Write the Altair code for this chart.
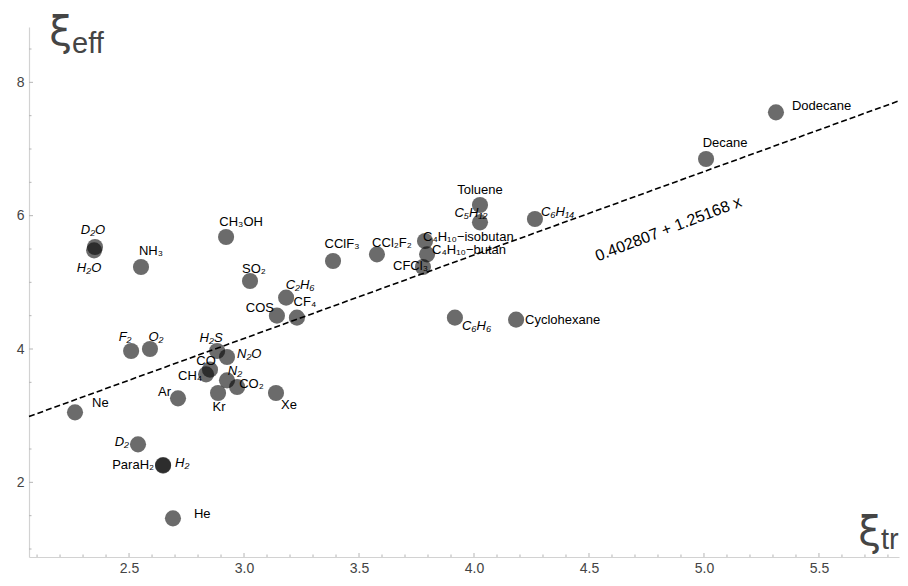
import altair as alt
import pandas as pd

# ---------------- data ----------------
names = ["Dodecane", "Decane", "Toluene", "C₅H₁₂", "C₆H₁₄", "C₄H₁₀−isobutan",
         "C₄H₁₀−butan", "CFCl₃", "CCl₂F₂", "CClF₃", "CH₃OH", "SO₂", "C₂H₆",
         "COS", "CF₄", "NH₃", "D₂O", "H₂O", "F₂", "O₂", "H₂S", "N₂O", "CO",
         "CH₄", "N₂", "CO₂", "Kr", "Xe", "Ar", "Ne", "D₂", "ParaH₂", "H₂",
         "He", "C₆H₆", "Cyclohexane"]
xi_tr = [5.313, 5.009, 4.026, 4.026, 4.265, 3.787, 3.796, 3.778, 3.578, 3.387,
         2.922, 3.026, 3.183, 3.143, 3.230, 2.552, 2.352, 2.348, 2.509, 2.591,
         2.883, 2.926, 2.852, 2.835, 2.926, 2.970, 2.887, 3.139, 2.713, 2.265,
         2.539, 2.648, 2.648, 2.691, 3.917, 4.183]
xi_eff = [7.55, 6.85, 6.16, 5.90, 5.95, 5.62, 5.42, 5.23, 5.42, 5.32,
          5.68, 5.02, 4.77, 4.50, 4.47, 5.23, 5.53, 5.48, 3.97, 4.00,
          3.97, 3.88, 3.69, 3.62, 3.53, 3.43, 3.34, 3.34, 3.26, 3.05,
          2.57, 2.26, 2.25, 1.46, 4.47, 4.44]

fit_intercept = 0.402807
fit_slope = 1.25168
fit_label = "0.402807 + 1.25168 x"

x_major = [2.5, 3.0, 3.5, 4.0, 4.5, 5.0, 5.5]
x_minor = [2.1, 2.2, 2.3, 2.4, 2.6, 2.7, 2.8, 2.9, 3.1, 3.2, 3.3, 3.4, 3.6, 3.7,
           3.8, 3.9, 4.1, 4.2, 4.3, 4.4, 4.6, 4.7, 4.8, 4.9, 5.1, 5.2, 5.3, 5.4,
           5.6, 5.7, 5.8]
y_major = [2, 4, 6, 8]
y_minor = [1.0, 1.5, 2.5, 3.0, 3.5, 4.5, 5.0, 5.5, 6.5, 7.0, 7.5, 8.5]

# ---------------- styling ----------------
X_DOMAIN = [2.065, 5.848]
Y_DOMAIN = [0.88, 8.83]
W, H = 870, 530
PX_X = W / (X_DOMAIN[1] - X_DOMAIN[0])
PX_Y = H / (Y_DOMAIN[1] - Y_DOMAIN[0])
FONT = "Liberation Sans"
AXIS_GRAY = "#d2d2d2"
TICK_GRAY = "#b5b5b5"
LABEL_GRAY = "#444444"

# label placement in pixels relative to the point: (dx, dy, align, italic)
place = {
    "Dodecane": (16, -6, "left", False),
    "Decane": (19, -16, "center", False),
    "Toluene": (0, -15, "center", False),
    "C₅H₁₂": (-9, -9, "center", True),
    "C₆H₁₄": (6, -7, "left", True),
    "C₄H₁₀−isobutan": (-2, -4, "left", False),
    "C₄H₁₀−butan": (5, -4, "left", False),
    "CFCl₃": (5, -1, "right", False),
    "CCl₂F₂": (15, -11, "center", False),
    "CClF₃": (9, -17, "center", False),
    "CH₃OH": (15, -15, "center", False),
    "SO₂": (4, -12, "center", False),
    "C₂H₆": (14, -13, "center", True),
    "COS": (-3, -8, "right", False),
    "CF₄": (8, -16, "center", False),
    "NH₃": (10, -16, "center", False),
    "D₂O": (-2, -17, "center", True),
    "H₂O": (-5, 18, "center", True),
    "F₂": (-6, -14, "center", True),
    "O₂": (6, -12, "center", True),
    "H₂S": (-6, -13, "center", True),
    "N₂O": (10, -3, "left", True),
    "CO": (-4, -9, "center", False),
    "CH₄": (-4, 2, "right", False),
    "N₂": (8, -9, "center", True),
    "CO₂": (2, -3, "left", False),
    "Kr": (1, 14, "center", False),
    "Xe": (13, 12, "center", False),
    "Ar": (-7, -6, "right", False),
    "Ne": (17, -9, "left", False),
    "D₂": (-9, -2, "right", True),
    "ParaH₂": (-9, 0, "right", False),
    "H₂": (12, -3, "left", True),
    "He": (21, -4, "left", False),
    "C₆H₆": (7, 8, "left", True),
    "Cyclohexane": (9, 0, "left", False),
}

df = pd.DataFrame({"name": names, "xtr": xi_tr, "xeff": xi_eff})
df["dx"] = [place[n][0] for n in names]
df["dy"] = [place[n][1] for n in names]
df["align"] = [place[n][2] for n in names]
df["ital"] = ["italic" if place[n][3] else "normal" for n in names]

xscale = alt.Scale(domain=X_DOMAIN, nice=False, zero=False)
yscale = alt.Scale(domain=Y_DOMAIN, nice=False, zero=False)

x_axis = alt.Axis(values=x_major, format=".1f", ticks=False, grid=False, title=None,
                  domainColor=AXIS_GRAY, domainWidth=1.2, labelFontSize=14,
                  labelColor=LABEL_GRAY, labelFont=FONT, labelPadding=4)
y_axis = alt.Axis(values=y_major, format="d", ticks=False, grid=False, title=None,
                  domainColor=AXIS_GRAY, domainWidth=1.2, labelFontSize=14,
                  labelColor=LABEL_GRAY, labelFont=FONT, labelPadding=5)


def X(field):
    return alt.X(field, scale=xscale, axis=x_axis)


def Y(field):
    return alt.Y(field, scale=yscale, axis=y_axis)


points = alt.Chart(df).mark_circle(size=260, color="black", opacity=0.58).encode(
    x=X("xtr:Q"), y=Y("xeff:Q"),
)

label_layers = []
for al in ["left", "center", "right"]:
    for st in ["normal", "italic"]:
        sub = df[(df["align"] == al) & (df["ital"] == st)]
        if len(sub) == 0:
            continue
        label_layers.append(
            alt.Chart(sub).transform_calculate(
                lx=f"datum.xtr + datum.dx / {PX_X}",
                ly=f"datum.xeff - datum.dy / {PX_Y}",
            ).mark_text(align=al, baseline="middle", fontSize=13,
                        font=FONT, fontStyle=st, color="black").encode(
                x=X("lx:Q"), y=Y("ly:Q"), text="name:N",
            )
        )

fit_df = pd.DataFrame({"x": X_DOMAIN})
fit_line = alt.Chart(fit_df).transform_calculate(
    y=f"{fit_intercept} + {fit_slope} * datum.x"
).mark_line(color="black", strokeDash=[6, 3], strokeWidth=1.6).encode(
    x=X("x:Q"), y=Y("y:Q"),
)

eq_df = pd.DataFrame({"x": [4.845], "y": [5.80], "t": [fit_label]})
eq_text = alt.Chart(eq_df).mark_text(angle=339, fontSize=16, font=FONT,
                                     color="black", align="center",
                                     baseline="middle").encode(
    x=X("x:Q"), y=Y("y:Q"), text="t:N",
)

# axis ticks (drawn inward, like the reference)
xmaj = alt.Chart(pd.DataFrame({"v": x_major})).mark_rule(color=TICK_GRAY, strokeWidth=1).encode(
    x=X("v:Q"), y=alt.value(H - 4), y2=alt.value(H))
xmin = alt.Chart(pd.DataFrame({"v": x_minor})).mark_rule(color=TICK_GRAY, strokeWidth=1).encode(
    x=X("v:Q"), y=alt.value(H - 2.5), y2=alt.value(H))
ymaj = alt.Chart(pd.DataFrame({"v": y_major})).mark_rule(color=TICK_GRAY, strokeWidth=1).encode(
    y=Y("v:Q"), x=alt.value(0), x2=alt.value(4))
ymin = alt.Chart(pd.DataFrame({"v": y_minor})).mark_rule(color=TICK_GRAY, strokeWidth=1).encode(
    y=Y("v:Q"), x=alt.value(0), x2=alt.value(2.5))


# axis titles
def title_text(txt, xpx, ypx, size, align, font):
    return alt.Chart(pd.DataFrame({"t": [txt]})).mark_text(
        fontSize=size, align=align, baseline="alphabetic", font=font,
        color="#454545").encode(x=alt.value(xpx), y=alt.value(ypx), text="t:N")


ttl = [
    title_text("ξ", 43, 18, 41, "right", "DejaVu Sans"),
    title_text("eff", 43, 26, 29, "left", FONT),
    title_text("ξ", 852, 518, 41, "right", "DejaVu Sans"),
    title_text("tr", 852, 522, 29, "left", FONT),
]

chart = alt.layer(points, xmin, xmaj, ymin, ymaj, fit_line, *label_layers, eq_text, *ttl).properties(
    width=W, height=H,
    autosize=alt.AutoSizeParams(type="none"),
    padding={"left": 21, "top": 19, "right": 1, "bottom": 20},
).configure_view(stroke=None)

chart.save("out.html", embed_options={"renderer": "svg", "actions": False})
